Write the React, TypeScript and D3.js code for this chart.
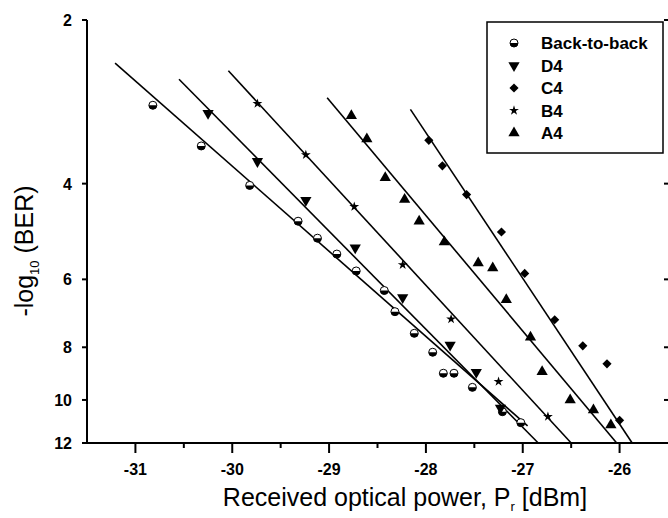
import React from 'react';
import * as d3 from 'd3';

// received power (dBm) and -log10(BER)
const b2bX = [-30.82, -30.32, -29.82, -29.32, -29.12, -28.92, -28.72, -28.43, -28.32, -28.12, -27.93, -27.82, -27.71, -27.52, -27.21, -27.02];
const b2bY = [2.87, 3.41, 4.03, 4.69, 5.04, 5.39, 5.79, 6.29, 6.88, 7.54, 8.17, 8.93, 8.93, 9.48, 10.51, 11.01];
const d4X = [-30.25, -29.74, -29.24, -28.73, -28.24, -27.75, -27.48, -27.23];
const d4Y = [2.97, 3.64, 4.29, 5.25, 6.48, 7.92, 8.89, 10.35];
const c4X = [-27.97, -27.83, -27.58, -27.22, -26.98, -26.67, -26.38, -26.13, -26.0];
const c4Y = [3.33, 3.71, 4.19, 4.91, 5.85, 7.12, 7.95, 8.58, 10.9];
const b4X = [-29.74, -29.24, -28.74, -28.24, -27.74, -27.25, -26.74];
const b4Y = [2.85, 3.54, 4.41, 5.64, 7.1, 9.25, 10.73];
const a4X = [-28.77, -28.61, -28.42, -28.22, -28.07, -27.81, -27.46, -27.31, -27.17, -26.92, -26.8, -26.51, -26.27, -26.09];
const a4Y = [3.0, 3.31, 3.9, 4.28, 4.69, 5.12, 5.6, 5.72, 6.54, 7.67, 8.87, 10.0, 10.43, 11.12];

// linear fits (end points)
const b2bFitX = [-31.21, -26.95];
const b2bFitY = [2.4, 11.16];
const d4FitX = [-30.55, -26.84];
const d4FitY = [2.57, 12];
const b4FitX = [-30.04, -26.5];
const b4FitY = [2.48, 12];
const a4FitX = [-29.02, -26.03];
const a4FitY = [2.78, 12];
const c4FitX = [-28.16, -25.87];
const c4FitY = [2.92, 12];

const xTicks = [-31, -30, -29, -28, -27, -26];
const xMinor = [-30.5, -29.5, -28.5, -27.5, -26.5];
const yTicks = [2, 4, 6, 8, 10, 12];
const legendNames = ['Back-to-back', 'D4', 'C4', 'B4', 'A4'];

const W = 668;
const H = 518;

function HalfCircle({ cx, cy, r }: { cx: number; cy: number; r: number }) {
  return (
    <g transform={`translate(${cx},${cy})`}>
      <circle r={r} fill="#fff" stroke="#000" strokeWidth={1} />
      <path d={`M${-r},0 A${r},${r} 0 0,0 ${r},0 Z`} fill="#000" />
    </g>
  );
}

function Marker({ kind, x, y }: { kind: string; x: number; y: number }) {
  if (kind === 'Back-to-back') return <HalfCircle cx={x} cy={y} r={4} />;
  let p = '';
  let rot = 0;
  if (kind === 'D4') {
    p = d3.symbol().type(d3.symbolTriangle).size(55)() || '';
    rot = 180;
  } else if (kind === 'A4') {
    p = d3.symbol().type(d3.symbolTriangle).size(55)() || '';
  } else if (kind === 'C4') {
    p = d3.symbol().type(d3.symbolSquare).size(42)() || '';
    rot = 45;
  } else {
    p = d3.symbol().type(d3.symbolStar).size(30)() || '';
  }
  return <path d={p} transform={`translate(${x},${y}) rotate(${rot})`} fill="#000" />;
}

export default function App() {
  const x = d3.scaleLinear().domain([-31.5, -25.5]).range([87, 668]);
  const y = d3.scaleLog().domain([2, 12]).range([20, 443]);

  const line = d3
    .line<[number, number]>()
    .x((d) => x(d[0]))
    .y((d) => y(d[1]));

  const series = [
    { name: 'Back-to-back', xs: b2bX, ys: b2bY, fx: b2bFitX, fy: b2bFitY },
    { name: 'D4', xs: d4X, ys: d4Y, fx: d4FitX, fy: d4FitY },
    { name: 'C4', xs: c4X, ys: c4Y, fx: c4FitX, fy: c4FitY },
    { name: 'B4', xs: b4X, ys: b4Y, fx: b4FitX, fy: b4FitY },
    { name: 'A4', xs: a4X, ys: a4Y, fx: a4FitX, fy: a4FitY },
  ];

  const y0 = y(12);
  const left = x.range()[0];
  const font = 'Liberation Sans, Arial, sans-serif';

  return (
    <svg
      width={W}
      height={H}
      style={{ position: 'absolute', left: 0, top: 0, background: '#fff' }}
      fontFamily={font}
    >
      {/* fit lines */}
      {series.map((s) => (
        <path
          key={'fit' + s.name}
          d={line(s.fx.map((v, i) => [v, s.fy[i]] as [number, number])) || ''}
          fill="none"
          stroke="#000"
          strokeWidth={1.6}
        />
      ))}

      {/* markers */}
      {series.map((s) =>
        s.xs.map((v, i) => <Marker key={s.name + i} kind={s.name} x={x(v)} y={y(s.ys[i])} />)
      )}

      {/* axes */}
      <line x1={left} x2={left} y1={y(2)} y2={y0 + 1} stroke="#000" strokeWidth={2} />
      <line x1={left} x2={W} y1={y0} y2={y0} stroke="#000" strokeWidth={2} />

      {xTicks.map((t) => (
        <g key={'xt' + t}>
          <line x1={x(t)} x2={x(t)} y1={y0} y2={y0 + 10} stroke="#000" strokeWidth={2} />
          <text x={x(t)} y={y0 + 32} textAnchor="middle" fontSize={16} fontWeight="bold">
            {t}
          </text>
        </g>
      ))}
      {xMinor.map((t) => (
        <line key={'xm' + t} x1={x(t)} x2={x(t)} y1={y0} y2={y0 + 5} stroke="#000" strokeWidth={2} />
      ))}

      {yTicks.map((t) => (
        <g key={'yt' + t}>
          <line x1={left - 5} x2={left} y1={y(t)} y2={y(t)} stroke="#000" strokeWidth={2} />
          <line x1={W - 4} x2={W} y1={y(t)} y2={y(t)} stroke="#000" strokeWidth={2} />
          <text x={left - 15} y={y(t) + 6} textAnchor="end" fontSize={16} fontWeight="bold">
            {t}
          </text>
        </g>
      ))}

      {/* axis titles */}
      <text x={405} y={506} textAnchor="middle" fontSize={25}>
        Received optical power, P
        <tspan fontSize={13} dy={5}>r</tspan>
        <tspan dy={-5}> [dBm]</tspan>
      </text>
      <text transform="translate(33,251) rotate(-90)" textAnchor="middle" fontSize={25}>
        -log
        <tspan fontSize={13} dy={6}>10</tspan>
        <tspan dy={-6}> (BER)</tspan>
      </text>

      {/* legend */}
      <rect x={487} y={22} width={176} height={131} fill="#fff" stroke="#000" strokeWidth={1.5} />
      {legendNames.map((n, i) => (
        <g key={'lg' + n}>
          <Marker kind={n} x={514} y={43 + i * 22.5} />
          <text x={541} y={43 + i * 22.5 + 6} fontSize={17} fontWeight="bold">
            {n}
          </text>
        </g>
      ))}
    </svg>
  );
}
